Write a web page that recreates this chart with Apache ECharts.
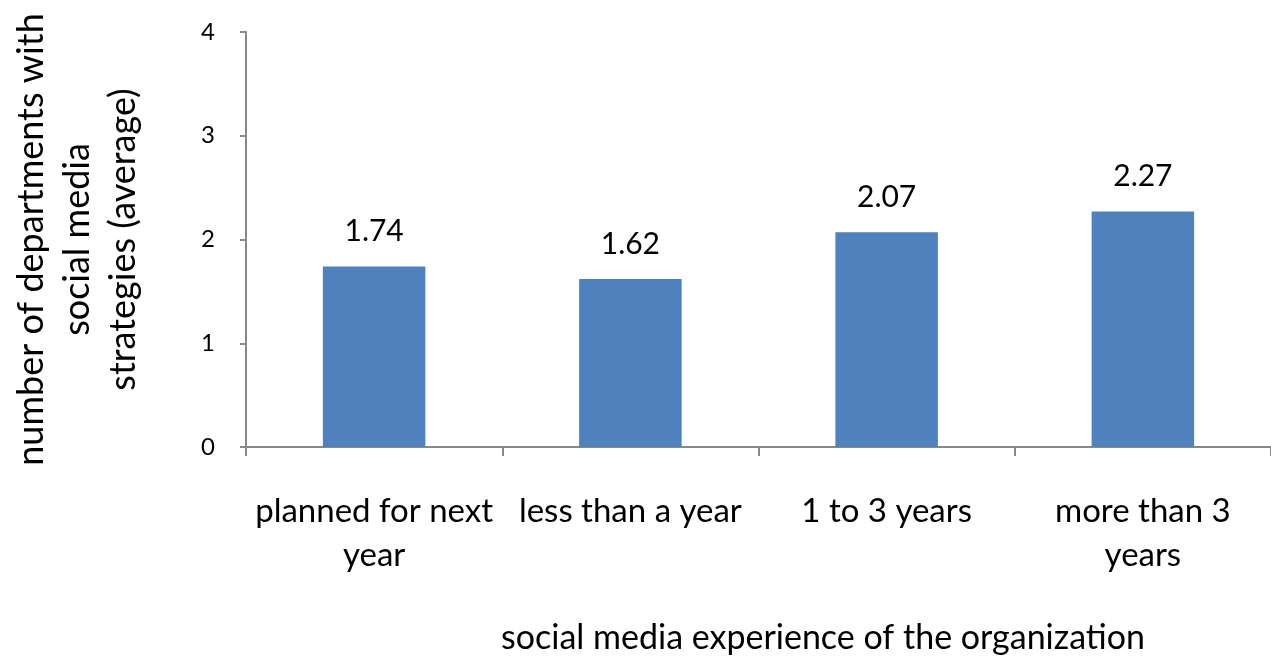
<!DOCTYPE html>
<html>
<head>
<meta charset="utf-8">
<script src="https://cdn.jsdelivr.net/npm/echarts@6/dist/echarts.min.js"></script>
<style>html,body{margin:0;padding:0;background:#fff}#c{width:1271px;height:658px}</style>
</head>
<body>
<div id="c"></div>
<script>
const categories = ["planned for next\nyear", "less than a year", "1 to 3 years", "more than 3\nyears"];
const values = [1.74, 1.62, 2.07, 2.27];
const yTicks = [0, 1, 2, 3, 4];
const yTitle = "number of departments with\nsocial media\nstrategies (average)";
const xTitle = "social media experience of the organization";

const FONT = "Lato";
const axisGrey = "#898989";
const chart = echarts.init(document.getElementById('c'), null, {renderer: 'canvas'});
chart.setOption({
  animation: false,
  backgroundColor: '#ffffff',
  textStyle: {fontFamily: FONT, color: '#000'},
  title: {
    text: xTitle,
    left: 496, top: 616,
    textStyle: {fontFamily: FONT, fontSize: 34, fontWeight: 'normal', color: '#000'}
  },
  grid: {left: 245, top: 32, width: 1036, height: 415, containLabel: false},
  xAxis: {
    type: 'category',
    data: categories,
    boundaryGap: true,
    axisLine: {lineStyle: {color: axisGrey, width: 2}},
    axisTick: {show: true, interval: 0, length: 9, alignWithLabel: false, lineStyle: {color: axisGrey, width: 2}},
    axisLabel: {interval: 0, margin: 42, fontFamily: FONT, fontSize: 33, lineHeight: 44, color: '#000'},
    splitLine: {show: false}
  },
  yAxis: {
    type: 'value',
    min: yTicks[0], max: yTicks[yTicks.length - 1], interval: 1,
    name: yTitle,
    nameLocation: 'middle',
    nameRotate: 90,
    nameGap: 100,
    nameTextStyle: {fontFamily: FONT, fontSize: 36, lineHeight: 46, color: '#000', align: 'center'},
    axisLine: {show: true, lineStyle: {color: axisGrey, width: 2}},
    axisTick: {show: true, length: 6, lineStyle: {color: axisGrey, width: 2}},
    axisLabel: {margin: 31, fontFamily: FONT, fontSize: 24, color: '#000'},
    splitLine: {show: false}
  },
  series: [{
    type: 'bar',
    data: values,
    barWidth: '40%',
    itemStyle: {color: '#4f81bd'},
    label: {show: true, position: 'top', distance: 20, fontFamily: FONT, fontSize: 30, color: '#000',
      formatter: p => p.value.toFixed(2)}
  }]
});
</script>
</body>
</html>
